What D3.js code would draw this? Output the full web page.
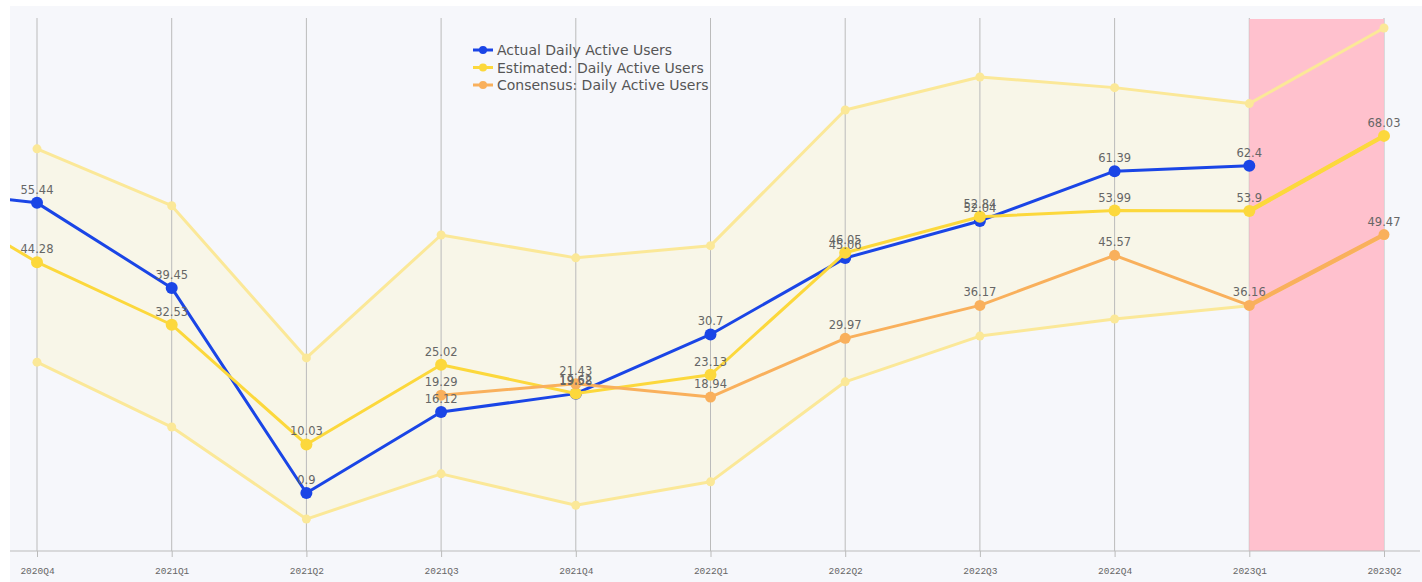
<!DOCTYPE html>
<html><head><meta charset="utf-8">
<script src="https://cdn.jsdelivr.net/npm/d3@7/dist/d3.min.js"></script>
<style>body{margin:0;background:#fff}svg{display:block}</style>
</head><body>
<script>
const categories = ["2020Q3","2020Q4","2021Q1","2021Q2","2021Q3","2021Q4","2022Q1","2022Q2","2022Q3","2022Q4","2023Q1","2023Q2"];
const tickLabels = ["2020Q4","2021Q1","2021Q2","2021Q3","2021Q4","2022Q1","2022Q2","2022Q3","2022Q4","2023Q1","2023Q2"];
const actual    = [58.3, 55.44, 39.45, 0.9, 16.12, 19.58, 30.7, 45.06, 52.04, 61.39, 62.4, null];
const estimated = [59.2, 44.28, 32.53, 10.03, 25.02, 19.62, 23.13, 46.05, 52.84, 53.99, 53.9, 68.03];
const consensus = [null, null, null, null, 19.29, 21.43, 18.94, 29.97, 36.17, 45.57, 36.16, 49.47];
const bandHigh  = [null, 65.6, 54.9, 26.3, 49.4, 45.1, 47.4, 72.9, 79.1, 77.1, 74.1, 88.3];
const bandLow   = [null, 25.5, 13.3, -4.0, 4.5, -1.4, 3.0, 21.8, 30.4, 33.6, 36.1, 49.3];
const labelShown = [false,true,true,true,true,true,true,true,true,true,true,true];
const highlight = ["2023Q1","2023Q2"];
const legendItems = ["Actual Daily Active Users","Estimated: Daily Active Users","Consensus: Daily Active Users"];

const W = 1422, H = 582;
const plot = {l:10, r:1420, t:6, b:551};
const svg = d3.select("body").append("svg").attr("width",W).attr("height",H);

const x = d3.scaleLinear().domain([1, 11]).range([37, 1384]);
const xi = c => x(categories.indexOf(c));
const y = d3.scaleLinear().domain([-10, 90]).range([551, 19]);

const cActual="#1a45e6", cEst="#fcd83c", cCons="#f9b05c", cBand="#fbe898", cBandFill="#f8f6e8";

svg.append("rect").attr("x",plot.l).attr("y",plot.t).attr("width",W-plot.l).attr("height",H-plot.t).attr("fill","#f6f7fb");

svg.append("defs").append("clipPath").attr("id","clip").append("rect")
  .attr("x",plot.l).attr("y",plot.t).attr("width",plot.r-plot.l).attr("height",plot.b-plot.t);
const g = svg.append("g").attr("clip-path","url(#clip)");

// band fill
const bandIdx = categories.map((c,i)=>i).filter(i=>bandHigh[i]!=null);
g.append("path").datum(bandIdx)
  .attr("d", d3.area().x(i=>x(i)).y0(i=>y(bandLow[i])).y1(i=>y(bandHigh[i])))
  .attr("fill", cBandFill);

// gridlines
const xAxis = d3.axisBottom(x).tickValues(d3.range(1,12)).tickFormat(i=>tickLabels[i-1]).tickSize(6);
g.append("g").selectAll("line").data(d3.range(1,12)).join("line")
  .attr("x1",i=>x(i)).attr("x2",i=>x(i)).attr("y1",y(90)-1).attr("y2",plot.b)
  .attr("stroke","#bbbbbb").attr("stroke-width",1);

// highlight rect
g.append("rect").attr("x",xi(highlight[0])).attr("width",xi(highlight[1])-xi(highlight[0]))
  .attr("y",y(90)).attr("height",plot.b-y(90)).attr("fill","#ffbecb").attr("opacity",0.95);

function drawLine(vals, color, width, r){
  const idx = categories.map((c,i)=>i).filter(i=>vals[i]!=null);
  g.append("path").datum(idx)
    .attr("d", d3.line().x(i=>x(i)).y(i=>y(vals[i])))
    .attr("fill","none").attr("stroke",color).attr("stroke-width",width).attr("stroke-linejoin","round");
  g.append("g").selectAll("circle").data(idx.filter(i=>i>0)).join("circle")
    .attr("cx",i=>x(i)).attr("cy",i=>y(vals[i])).attr("r",r).attr("fill",color);
}
drawLine(bandHigh, cBand, 3, 4.5);
drawLine(bandLow, cBand, 3, 4.5);
drawLine(actual, cActual, 3, 6);
drawLine(estimated, cEst, 3, 6);
drawLine(consensus, cCons, 3, 5.5);
[[estimated,cEst],[consensus,cCons]].forEach(([v,c])=>{
  g.append("line").attr("x1",x(10)).attr("y1",y(v[10])).attr("x2",x(11)).attr("y2",y(v[11]))
   .attr("stroke",c).attr("stroke-width",4.5).attr("stroke-linecap","round");
});

function drawLabels(vals){
  const idx = categories.map((c,i)=>i).filter(i=>vals[i]!=null && labelShown[i]);
  svg.append("g").selectAll("text").data(idx).join("text")
    .attr("x",i=>x(i)).attr("y",i=>y(vals[i])-9).attr("text-anchor","middle")
    .attr("font-family","DejaVu Sans, sans-serif").attr("font-size",11.5).attr("fill","#666")
    .text(i=>vals[i]);
}
drawLabels(actual); drawLabels(estimated); drawLabels(consensus);

const ax = svg.append("g").attr("transform",`translate(0,${plot.b})`).call(xAxis);
ax.select(".domain").remove();
ax.append("line").attr("x1",plot.l).attr("x2",plot.r).attr("stroke","#bbb");
ax.selectAll(".tick line").attr("stroke","#bbb");
ax.selectAll(".tick text").attr("font-family","Liberation Mono, monospace").attr("font-size",9.5).attr("fill","#666").attr("dy","1.5em");

const lg = svg.append("g").attr("transform","translate(473,50)");
const lcol=[cActual,cEst,cCons];
legendItems.forEach((t,k)=>{
  const row = lg.append("g").attr("transform",`translate(0,${k*17.5})`);
  row.append("line").attr("x1",0).attr("x2",20).attr("stroke",lcol[k]).attr("stroke-width",3);
  row.append("circle").attr("cx",10).attr("r",4).attr("fill",lcol[k]);
  row.append("text").attr("x",24).attr("y",5).attr("font-family","DejaVu Sans, sans-serif").attr("font-size",14).attr("fill","#555").text(t);
});
</script>
</body></html>
